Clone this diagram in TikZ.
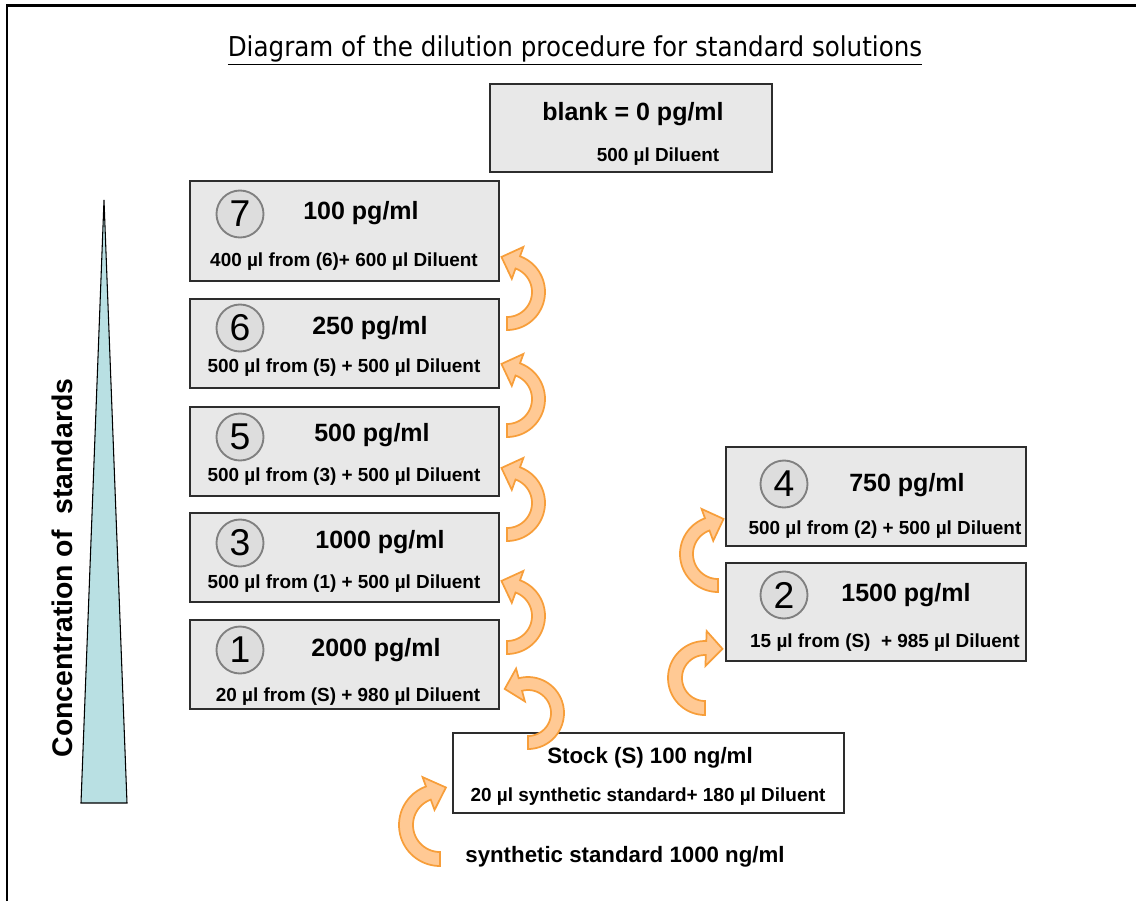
\documentclass[tikz,border=0pt]{standalone}
\usepackage{fontspec}
\setmainfont{Liberation Sans}
\newfontfamily\titlefont[FakeStretch=0.9]{DejaVu Sans}
\definecolor{boxgray}{RGB}{232,232,232}
\definecolor{boxline}{RGB}{45,45,45}
\definecolor{circfill}{RGB}{221,221,221}
\definecolor{circline}{RGB}{128,128,128}
\definecolor{arrfill}{RGB}{255,201,148}
\definecolor{arrline}{RGB}{247,158,58}
\definecolor{trifill}{RGB}{185,224,227}
\newcommand{\mainsz}{\fontsize{18.75}{22}\selectfont\bfseries}
\newcommand{\subsz}{\fontsize{14.2}{17}\selectfont\bfseries}
\newcommand{\stocksz}{\fontsize{16.7}{20}\selectfont\bfseries}
\newcommand{\numsz}{\fontsize{28}{30}\selectfont}
% curved block arrow: #1 centre, #2 x-mirror (1 or -1), #3 head angle, #4 inner radius, #5 outer radius
\newcommand{\curvarrow}[5]{%
  \begin{scope}[shift={(#1)}, xscale=#2, yscale=-1]
    \filldraw[blockarrow] (-90:#5) -- plot[domain=-90:#3, samples=40] (\x:#5)
      -- (#3:#5+10) -- (#3+29:{(#4+#5)/2+4}) -- (#3:#4-11) -- (#3:#4)
      -- plot[domain=#3:-90, samples=40] (\x:#4) -- cycle;
  \end{scope}}
\tikzset{
  stdbox/.style={draw=boxline, fill=boxgray, line width=1.1pt, inner sep=0pt},
  stockbox/.style={draw=boxline, fill=white, line width=1.1pt, inner sep=0pt},
  numcirc/.style={circle, draw=circline, fill=circfill, line width=1.4pt, minimum size={47*0.75pt}, inner sep=0pt, font=\numsz},
  maintxt/.style={font=\mainsz, inner sep=0pt},
  subtxt/.style={font=\subsz, inner sep=0pt},
  blockarrow/.style={fill=arrfill, draw=arrline, line width=1.3pt, line join=miter},
}
\begin{document}
\begin{tikzpicture}[x=0.75pt, y=-0.75pt]
\useasboundingbox (0,0) rectangle (1136,901);
% frame
\coordinate (fbl) at (7,901);
\coordinate (ftl) at (7,5.5);
\coordinate (ftr) at (1136,5.5);
\draw[line width=2.2pt] (fbl) -- (ftl) -- (ftr);

% title
\node[inner sep=0pt] (title) at (575,50) {\titlefont\fontsize{20.5}{24}\selectfont\underline{Diagram of the dilution procedure for standard solutions}};

% concentration wedge
\coordinate (tapex) at (104,200);
\coordinate (tbl) at (81,803);
\coordinate (tbr) at (127,803);
\filldraw[fill=trifill, draw=black, line width=0.8pt] (tapex) -- (tbr) -- (tbl) -- cycle;
\node[rotate=90, inner sep=0pt, font=\bfseries\fontsize{21.3}{24}\selectfont] (conc) at (62,568) {Concentration of\ \ standards};

% blank
\node[stdbox, minimum width={282*0.75pt}, minimum height={88*0.75pt}] (blank) at (631,128) {};
\node[maintxt] (blankt) at (633,114) {blank = 0 pg/ml};
\node[subtxt] (blanks) at (658,157) {500 µl Diluent};

% left column
\node[stdbox, minimum width={309*0.75pt}, minimum height={100*0.75pt}] (b7) at (344.5,231) {};
\node[numcirc] (c7) at (240,214) {7};
\node[maintxt] (t7) at (361,213) {100 pg/ml};
\node[subtxt] (s7) at (344,262) {400 µl from (6)+ 600 µl Diluent};

\node[stdbox, minimum width={309*0.75pt}, minimum height={89*0.75pt}] (b6) at (344.5,343.5) {};
\node[numcirc] (c6) at (240,328) {6};
\node[maintxt] (t6) at (370,328) {250 pg/ml};
\node[subtxt] (s6) at (344,368) {500 µl from (5) + 500 µl Diluent};

\node[stdbox, minimum width={309*0.75pt}, minimum height={89*0.75pt}] (b5) at (344.5,451.5) {};
\node[numcirc] (c5) at (240,437) {5};
\node[maintxt] (t5) at (372,435) {500 pg/ml};
\node[subtxt] (s5) at (344,477) {500 µl from (3) + 500 µl Diluent};

\node[stdbox, minimum width={309*0.75pt}, minimum height={89*0.75pt}] (b3) at (344.5,557.5) {};
\node[numcirc] (c3) at (240,543) {3};
\node[maintxt] (t3) at (380,542) {1000 pg/ml};
\node[subtxt] (s3) at (344,584) {500 µl from (1) + 500 µl Diluent};

\node[stdbox, minimum width={309*0.75pt}, minimum height={89*0.75pt}] (b1) at (344.5,664.5) {};
\node[numcirc] (c1) at (240,650) {1};
\node[maintxt] (t1) at (376,650) {2000 pg/ml};
\node[subtxt] (s1) at (348,697) {20 µl from (S) + 980 µl Diluent};

% right column
\node[stdbox, minimum width={300*0.75pt}, minimum height={99*0.75pt}] (b4) at (876,496.5) {};
\node[numcirc] (c4) at (784,484) {4};
\node[maintxt] (t4) at (907,485) {750 pg/ml};
\node[subtxt] (s4) at (885,530) {500 µl from (2) + 500 µl Diluent};

\node[stdbox, minimum width={300*0.75pt}, minimum height={98*0.75pt}] (b2) at (876,612) {};
\node[numcirc] (c2) at (784,595) {2};
\node[maintxt] (t2) at (906,595) {1500 pg/ml};
\node[subtxt] (s2) at (885,643) {15 µl from (S)\ \ + 985 µl Diluent};

% stock
\node[stockbox, minimum width={391*0.75pt}, minimum height={80*0.75pt}] (stock) at (648.5,773) {};
\node[inner sep=0pt, font=\stocksz] (stockt) at (650,758) {Stock (S) 100 ng/ml};
\node[subtxt] (stocks) at (648,797) {20 µl synthetic standard+ 180 µl Diluent};
\node[inner sep=0pt, font=\stocksz] (synth) at (625,857) {synthetic standard 1000 ng/ml};

% curved arrows
\coordinate (a76) at (507,292);
\coordinate (a56) at (507,399);
\coordinate (a35) at (507,503);
\coordinate (a13) at (507,616);
\coordinate (as1) at (528,713);
\coordinate (a24) at (718,554);
\coordinate (as2) at (705,678);
\coordinate (ass) at (440,825);
\curvarrow{a76}{1}{70}{25}{38}
\curvarrow{a56}{1}{70}{25}{38}
\curvarrow{a35}{1}{70}{25}{38}
\curvarrow{a13}{1}{70}{25}{38}
\curvarrow{as1}{1}{105}{23}{36}
\curvarrow{a24}{-1}{70}{25}{38}
\curvarrow{as2}{-1}{92}{23}{37}
\curvarrow{ass}{-1}{70}{27}{41}
\end{tikzpicture}
\end{document}
